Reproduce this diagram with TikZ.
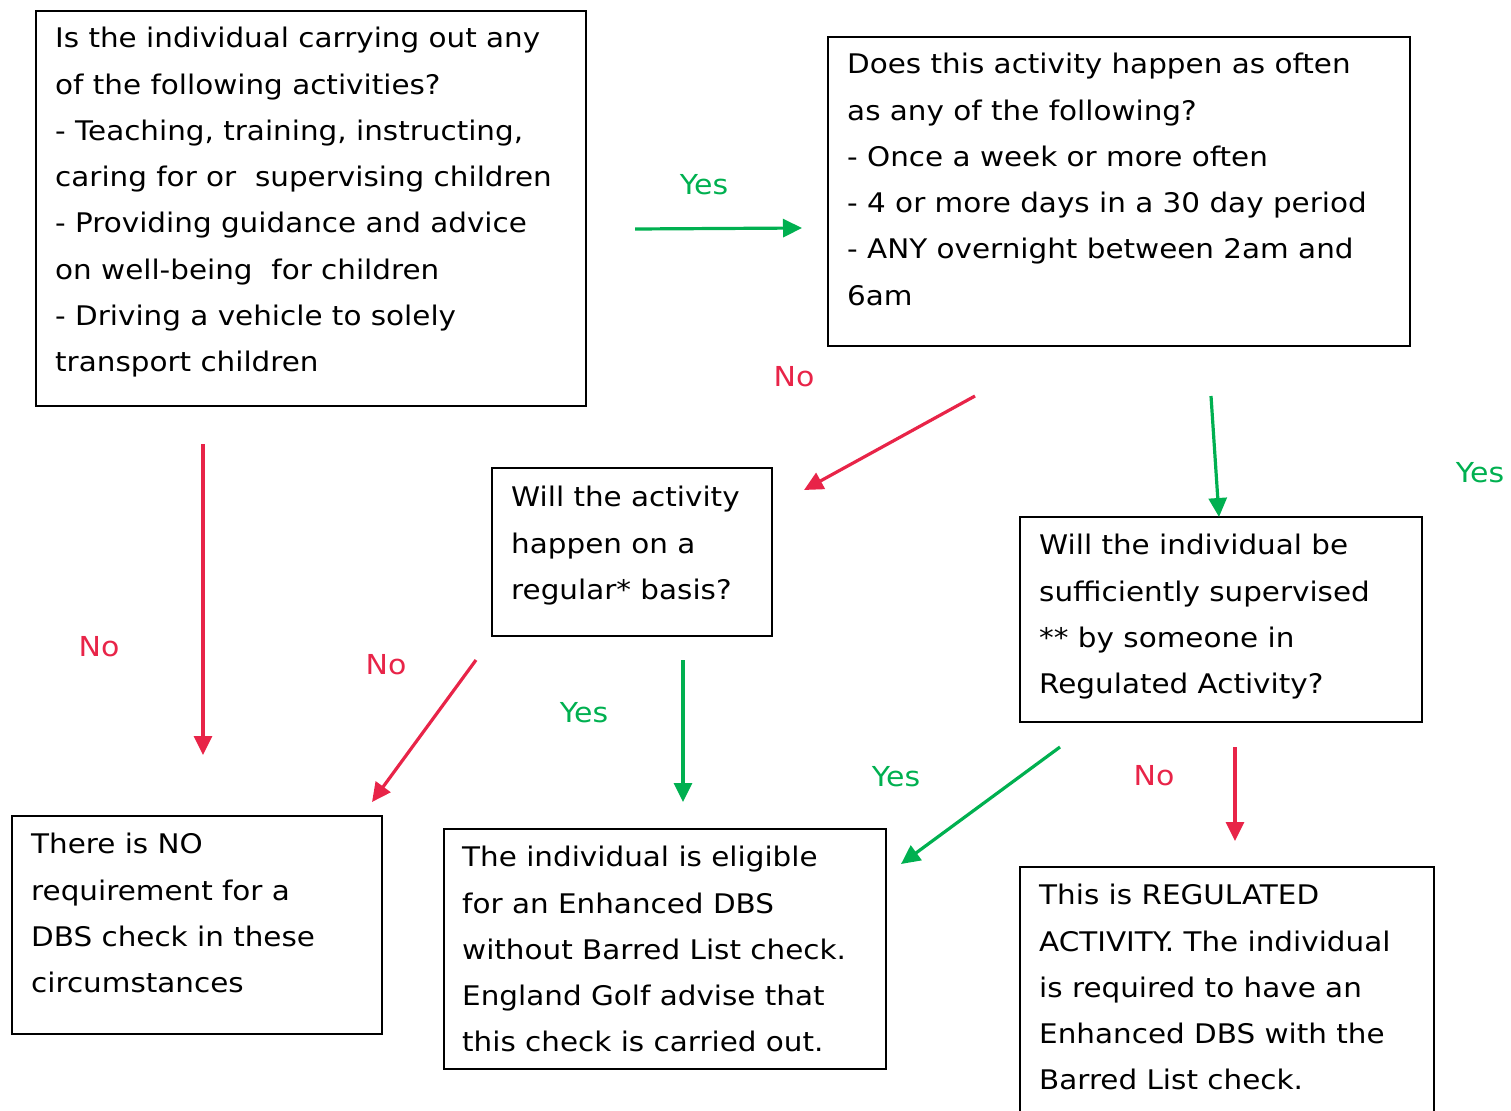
\documentclass[tikz,border=0pt]{standalone}
\usepackage{fontspec}
\setmainfont[FakeStretch=1.09]{DejaVu Sans}
\usetikzlibrary{arrows.meta}
\definecolor{yesgreen}{RGB}{0,176,80}
\definecolor{nored}{RGB}{232,36,72}
\begin{document}
\begin{tikzpicture}[x=1pt,y=-1pt,
  box/.style={draw, line width=1.8pt, anchor=north west, inner sep=0pt},
  txt/.style={anchor=north west, inner sep=0pt, align=left, font=\fontsize{27}{46.3}\selectfont},
  lbl/.style={font=\fontsize{27.5}{30}\selectfont},
  arr/.style={line width=3.2pt, -{Triangle[length=19pt,width=18pt]}},
  yesarr/.style={arr, draw=yesgreen, fill=yesgreen},
  noarr/.style={arr, draw=nored, fill=nored}]
\useasboundingbox (0,0) rectangle (1511,1110);
\clip (0,0) rectangle (1511,1110);
% boxes
\node[box, minimum width=550pt, minimum height=395pt] (q1) at (35,10) {};
\node[box, minimum width=582pt, minimum height=309pt] (q2) at (827,36) {};
\node[box, minimum width=280pt, minimum height=168pt] (q3) at (491,467) {};
\node[box, minimum width=402pt, minimum height=205pt] (q4) at (1019,516) {};
\node[box, minimum width=370pt, minimum height=218pt] (r1) at (11,815) {};
\node[box, minimum width=442pt, minimum height=240pt] (r2) at (443,828) {};
\node[box, minimum width=414pt, minimum height=270pt] (r3) at (1019,866) {};
% texts
\node[txt] (t1) at (55,27) {Is the individual carrying out any\\of the following activities?\\- Teaching, training, instructing,\\caring for or~ supervising children\\- Providing guidance and advice\\on well-being~ for children\\- Driving a vehicle to solely\\transport children};
\node[txt] (t2) at (847,53) {Does this activity happen as often\\as any of the following?\\- Once a week or more often\\- 4 or more days in a 30 day period\\- ANY overnight between 2am and\\6am};
\node[txt] (t3) at (511,486) {Will the activity\\happen on a\\regular* basis?};
\node[txt] (t4) at (1039,534) {Will the individual be\\sufficiently supervised\\** by someone in\\Regulated Activity?};
\node[txt] (t5) at (31,833) {There is NO\\requirement for a\\DBS check in these\\circumstances};
\node[txt] (t6) at (462,846) {The individual is eligible\\for an Enhanced DBS\\without Barred List check.\\England Golf advise that\\this check is carried out.};
\node[txt] (t7) at (1039,884) {This is REGULATED\\ACTIVITY. The individual\\is required to have an\\Enhanced DBS with the\\Barred List check.};
% arrow end points
\coordinate (a1s) at (635,229); \coordinate (a1e) at (802,228);
\coordinate (a2s) at (975,396); \coordinate (a2e) at (804,490);
\coordinate (a3s) at (1211,396); \coordinate (a3e) at (1219,517);
\coordinate (a4s) at (203,444); \coordinate (a4e) at (203,755);
\coordinate (a5s) at (476,660); \coordinate (a5e) at (372,802);
\coordinate (a6s) at (683,660); \coordinate (a6e) at (683,802);
\coordinate (a7s) at (1060,747); \coordinate (a7e) at (901,864);
\coordinate (a8s) at (1235,747); \coordinate (a8e) at (1235,841);
\draw[yesarr] (a1s) -- (a1e);
\draw[noarr] (a2s) -- (a2e);
\draw[yesarr] (a3s) -- (a3e);
\draw[noarr] (a4s) -- (a4e);
\draw[noarr] (a5s) -- (a5e);
\draw[yesarr] (a6s) -- (a6e);
\draw[yesarr] (a7s) -- (a7e);
\draw[noarr] (a8s) -- (a8e);
% labels
\node[lbl, text=yesgreen] (l1) at (704,185) {Yes};
\node[lbl, text=nored] (l2) at (794,377) {No};
\node[lbl, text=yesgreen] (l3) at (1480,473) {Yes};
\node[lbl, text=nored] (l4) at (99,647) {No};
\node[lbl, text=nored] (l5) at (386,665) {No};
\node[lbl, text=yesgreen] (l6) at (584,713) {Yes};
\node[lbl, text=yesgreen] (l7) at (896,777) {Yes};
\node[lbl, text=nored] (l8) at (1154,776) {No};
\end{tikzpicture}
\end{document}
